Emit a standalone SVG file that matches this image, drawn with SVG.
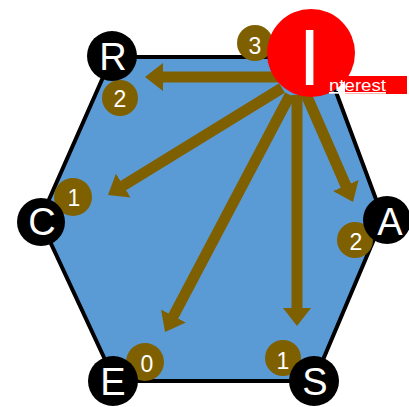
<svg xmlns="http://www.w3.org/2000/svg" width="409" height="407" viewBox="0 0 409 407">
<style>
.hex{fill:#5b9bd5;stroke:#000;stroke-width:4;stroke-linejoin:miter}
.badge{fill:#7f6000}
.btxt{fill:#fff;font-family:"Liberation Sans",Arial,sans-serif;font-size:23px;text-anchor:middle}
.node{fill:#000}
.ntxt{fill:#fff;font-family:"Liberation Sans",Arial,sans-serif;font-size:38px;text-anchor:middle}
.arrow{stroke:#7f6000;stroke-width:11;fill:none;marker-end:url(#ah)}
</style>
<defs>
<marker id="ah" markerUnits="userSpaceOnUse" viewBox="0 0 18 28" markerWidth="18" markerHeight="28" refX="2" refY="14" orient="auto">
<path d="M0,0 L18,14 L0,28 Z" fill="#7f6000"/>
</marker>
</defs>
<polygon class="hex" points="112,57 323,57 383,218 314,381 115,381 40,220"/>
<g id="badges">
<g id="badge-R"><circle class="badge" cx="120" cy="98" r="18"/><text class="btxt" x="120" y="107">2</text></g>
<g id="badge-C"><circle class="badge" cx="73" cy="197" r="19"/><text class="btxt" x="74" y="206">1</text></g>
<g id="badge-A"><circle class="badge" cx="355" cy="240" r="18"/><text class="btxt" x="356" y="250">2</text></g>
<g id="badge-E"><circle class="badge" cx="145" cy="362" r="19"/><text class="btxt" x="147" y="372">0</text></g>
<g id="badge-S"><circle class="badge" cx="283" cy="358" r="18"/><text class="btxt" x="283" y="369">1</text></g>
<g id="badge-I"><circle class="badge" cx="255" cy="43" r="18"/><text class="btxt" x="255" y="54">3</text></g>
</g>
<g id="connectors">
<line class="arrow" x1="280" y1="77" x2="161" y2="77"/>
<line class="arrow" x1="282" y1="88" x2="121.6" y2="186.6"/>
<line class="arrow" x1="290" y1="95" x2="172.5" y2="317.8"/>
<line class="arrow" x1="297" y1="95" x2="297" y2="310"/>
<line class="arrow" x1="305" y1="92" x2="346.6" y2="187.3"/>
</g>
<g id="node-R"><circle class="node" cx="112" cy="56" r="25"/><text class="ntxt" x="113" y="70">R</text></g>
<g id="node-C"><circle class="node" cx="41" cy="222" r="24"/><text class="ntxt" x="42" y="235">C</text></g>
<g id="node-A"><circle class="node" cx="387" cy="220" r="24"/><text class="ntxt" x="390" y="235">A</text></g>
<g id="node-E"><circle class="node" cx="113" cy="381" r="25"/><text class="ntxt" x="113" y="395">E</text></g>
<g id="node-S"><circle class="node" cx="314" cy="381" r="25"/><text class="ntxt" x="315" y="395">S</text></g>
<g id="node-Interest">
<circle cx="311" cy="53" r="44" fill="#ff0000"/>
<rect x="345" y="76" width="62" height="18" fill="#ff0000"/>
<text x="298.5" y="85" fill="#fff" font-family="Liberation Sans, Arial, sans-serif" font-size="80">I</text>
<text x="329" y="91" fill="#fff" font-family="Liberation Sans, Arial, sans-serif" font-size="17" textLength="57" lengthAdjust="spacingAndGlyphs" text-decoration="underline">nterest</text>
</g>
</svg>
